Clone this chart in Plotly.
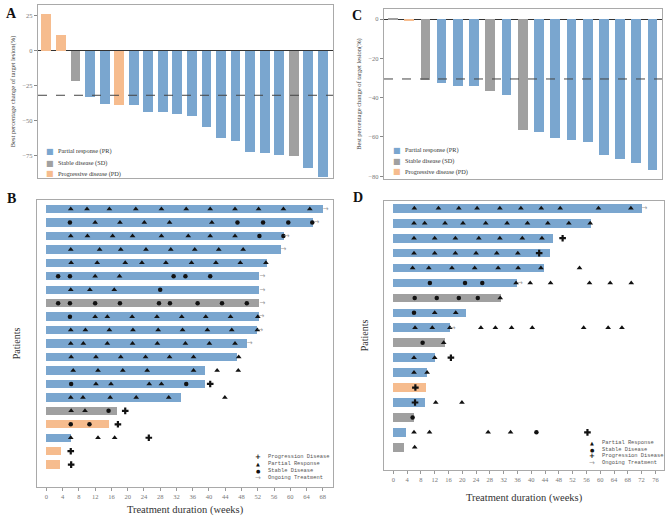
import plotly.graph_objects as go

W, H = 669, 516

BLUE = "#7aa6cf"
GRAY = "#a0a0a0"
ORANGE = "#f6bc8e"
COLORS = {"PR": BLUE, "SD": GRAY, "PD": ORANGE}
SERIF = "Liberation Serif, Times New Roman, serif"
MONO = "Liberation Mono, DejaVu Sans Mono, monospace"

# ---- panel A: waterfall ----
a_change = [26, 11, -22, -33, -38, -39, -39, -44, -44, -45.5,
            -47, -55, -62.5, -65, -72.5, -73, -75, -75.5, -84, -90.5]
a_response = ["PD", "PD", "SD", "PR", "PR", "PD", "PR", "PR", "PR", "PR",
              "PR", "PR", "PR", "PR", "PR", "PR", "PR", "SD", "PR", "PR"]
a_threshold = -32
a_ticks = [25, 0, -25, -50, -75]

# ---- panel C: waterfall ----
c_change = [0.6, -1, -31, -32.7, -34.2, -34.2, -36.6, -38.6, -56.3,
            -57.5, -60.7, -61.5, -62.7, -69, -71, -73.2, -77]
c_response = ["SD", "PD", "SD", "PR", "PR", "PR", "SD", "PR", "SD",
              "PR", "PR", "PR", "PR", "PR", "PR", "PR", "PR"]
c_threshold = -30.5
c_ticks = [0, -20, -40, -60, -80]

# ---- panel B: swimmer ----
b_end = [68, 65.7, 58.4, 57.6, 54.2, 52.4, 52.4, 52.4, 52.2, 51.9,
         49.3, 47, 39.1, 38.9, 33.2, 17.4, 15.4, 6, 3.5, 3.3]
b_response = ["PR"] * 7 + ["SD"] + ["PR"] * 7 + ["SD", "PD", "PR", "PD", "PD"]
b_ongoing = [True] * 4 + [False] + [True] * 6 + [False] * 9
b_pr = [
    [6, 10, 15.5, 22, 28.3, 34.4, 40.3, 46.4, 52.2, 58.3, 64.8],
    [12, 18.1, 24.1, 30.3, 40.7],
    [6, 10.1, 16.3, 21.2, 28.3, 34.9, 40.3, 46.4],
    [6, 13.1, 18.3, 24.5, 30.6, 36.5, 42.4, 48.4],
    [6.1, 12.5, 19.4, 23.5, 29.4, 35.7, 41.7, 47.7, 54],
    [12, 18],
    [6, 10.7, 16.7],
    [],
    [12, 15, 21.1, 27.2, 33.3, 39.2, 45.3, 52],
    [6, 9.6, 15.5, 21.3, 27.5, 33.5, 39.6, 45.6, 51.9],
    [6, 9.1, 15, 21.2, 27.3, 34.2, 40.1, 46.4],
    [6.1, 12.2, 18.3, 24.4, 30.3, 36.2, 47.3],
    [6.6, 12.7, 18.8, 24.8, 36.2, 42, 47.2],
    [12.2, 15.9, 25.3, 28.3],
    [6, 9, 15.7, 22.1, 30.1, 43.9],
    [6.1, 9.5],
    [],
    [6, 12.7, 16.8],
    [],
    [],
]
b_sd = [
    [], [5.8, 47, 53.3, 59.5, 65.4], [52.4, 58.3], [], [],
    [2.9, 5.8, 31.3, 34.2, 40.3], [28],
    [2.9, 5.8, 12, 18.1, 27.7, 30.4, 37.2, 43.2, 49.3],
    [5.8], [], [], [], [], [6.1, 34.4], [], [15.3], [6, 10.6], [], [], [],
]
b_pd = [
    [], [], [], [], [], [], [], [], [], [], [], [], [],
    [40.3], [], [19.4], [17.6], [25.2], [6], [6.1],
]
b_xticks = list(range(0, 69, 4))

# ---- panel D: swimmer ----
d_end = [72, 57.3, 46.3, 45.3, 43.6, 35.9, 31.3, 21.1, 16.4, 15,
         12.2, 9.8, 9.6, 9.3, 6.1, 3.6, 3.1]
d_response = ["PR"] * 6 + ["SD", "PR", "PR", "SD", "PR", "PR", "PD",
                           "PR", "SD", "PR", "SD"]
d_ongoing = [True] + [False] * 4 + [True] + [False] * 2 + [True] + [False] * 8
d_pr = [
    [6.1, 13.1, 19, 24.3, 30.9, 37, 42.9, 48.4, 59.5, 68.9],
    [6, 9.1, 15, 20.2, 26.8, 33, 38.9, 44.8, 50.9, 57.1],
    [6, 12, 18, 24.8, 30.9, 37.4, 43.1],
    [6, 12, 18, 24, 30, 36.1],
    [5.6, 10.3, 17, 23.6, 30.4, 36.2, 42.8, 54],
    [35.6, 39.7, 45.6, 56.9, 62.9, 69],
    [31],
    [12, 18.1],
    [6.3, 11.3, 16.4, 25.4, 29.6, 34.3, 40.3, 55.2, 62.3, 66.3],
    [14.6],
    [6, 12],
    [6, 9.8],
    [],
    [12.3, 19.9],
    [],
    [6, 10.5, 27.5, 34],
    [6.2],
]
d_sd = [
    [], [], [], [], [], [10.6, 20.8, 25.8], [6.2, 12.6, 19, 24.5], [6],
    [], [8.5], [], [], [], [], [5.6], [41.5], [],
]
d_pd = [
    [], [], [49.1], [42.3], [], [], [], [], [], [], [16.7], [],
    [6.4], [6.3], [], [56.3], [],
]
d_xticks = list(range(0, 77, 4))


def px(x, y):
    return x / W, 1 - y / H


def flat(rows):
    xs, ys = [], []
    for i, row in enumerate(rows):
        for v in row:
            xs.append(v)
            ys.append(i + 1)
    return xs, ys


fig = go.Figure()


def waterfall(values, responses, xa, ya, width):
    idx = list(range(1, len(values) + 1))
    fig.add_trace(go.Bar(
        x=idx, y=values, width=width,
        marker=dict(color=[COLORS[r] for r in responses], line_width=0),
        xaxis=xa, yaxis=ya, showlegend=False, hoverinfo="y",
    ))


def swimmer(ends, responses, ongoing, pr, sd, pd_, xa, ya, width):
    rows = list(range(1, len(ends) + 1))
    fig.add_trace(go.Bar(
        x=ends, y=rows, orientation="h", width=width,
        marker=dict(color=[COLORS[r] for r in responses], line_width=0),
        xaxis=xa, yaxis=ya, showlegend=False,
    ))
    for data, sym, size in ((pr, "triangle-up", 5), (sd, "circle", 4.5),
                            (pd_, "cross", 5.5)):
        xs, ys = flat(data)
        fig.add_trace(go.Scatter(
            x=xs, y=ys, mode="markers", xaxis=xa, yaxis=ya,
            marker=dict(symbol=sym, size=size, color="#111111", line_width=0),
            showlegend=False,
        ))
    ox = [e for e, o in zip(ends, ongoing) if o]
    oy = [r for r, o in zip(rows, ongoing) if o]
    fig.add_trace(go.Scatter(
        x=ox, y=oy, mode="text", text=["→"] * len(ox),
        textposition="middle right", xaxis=xa, yaxis=ya,
        textfont=dict(size=7, color="#999999", family="DejaVu Sans"),
        showlegend=False,
    ))


waterfall(a_change, a_response, "x", "y", 0.68)
waterfall(c_change, c_response, "x2", "y2", 0.6)
swimmer(b_end, b_response, b_ongoing, b_pr, b_sd, b_pd, "x3", "y3", 0.62)
swimmer(d_end, d_response, d_ongoing, d_pr, d_sd, d_pd, "x4", "y4", 0.58)

tickfont = dict(family=SERIF, size=6.5, color="#777777")
box = dict(showline=True, mirror=True, linecolor="#a9a9a9", linewidth=1.3,
           showgrid=False, automargin=False)
ytitle_font = dict(family=SERIF, size=6.5, color="#444444")

fig.update_layout(
    width=W, height=H,
    margin=dict(l=0, r=0, t=0, b=0, autoexpand=False),
    paper_bgcolor="white", plot_bgcolor="white",
    bargap=0,
    xaxis=dict(domain=[38 / W, 333 / W], range=[0.42, 20.7], anchor="y",
               showticklabels=False, zeroline=False, **box),
    yaxis=dict(domain=[1 - 178 / H, 1 - 5 / H], range=[-91.2, 32.6],
               anchor="x", tickvals=a_ticks, ticks="outside", ticklen=3,
               tickcolor="#888888", tickfont=tickfont, zeroline=True,
               zerolinecolor="#333333", zerolinewidth=1,
               title=dict(text="Best percentage change of target lesion(%)",
                          font=ytitle_font, standoff=6), **box),
    xaxis2=dict(domain=[384 / W, 662 / W], range=[0.45, 17.58], anchor="y2",
                showticklabels=False, zeroline=False, **box),
    yaxis2=dict(domain=[1 - 179 / H, 1 - 9 / H], range=[-81.4, 5.1],
                anchor="x2", tickvals=c_ticks, ticks="outside", ticklen=3,
                tickcolor="#888888", tickfont=tickfont, zeroline=True,
                zerolinecolor="#333333", zerolinewidth=1,
                title=dict(text="Best percentage change of target lesion(%)",
                           font=ytitle_font, standoff=6), **box),
    xaxis3=dict(domain=[37 / W, 333 / W], range=[-2.3, 70.5], anchor="y3",
                tickvals=b_xticks, ticks="outside", ticklen=3,
                tickcolor="#999999", tickfont=tickfont, zeroline=False,
                title=dict(text="Treatment duration (weeks)",
                           font=dict(family=SERIF, size=10.5, color="#333333"),
                           standoff=6), **box),
    yaxis3=dict(domain=[1 - 487 / H, 1 - 200 / H], range=[21.66, 0.33],
                anchor="x3", showticklabels=False, ticks="", zeroline=False,
                title=dict(text="Patients",
                           font=dict(family=SERIF, size=10, color="#333333"),
                           standoff=13), **box),
    xaxis4=dict(domain=[384 / W, 664 / W], range=[-2.7, 78.5], anchor="y4",
                tickvals=d_xticks, ticks="outside", ticklen=3,
                tickcolor="#999999", tickfont=tickfont, zeroline=False,
                title=dict(text="Treatment duration (weeks)",
                           font=dict(family=SERIF, size=10.5, color="#333333"),
                           standoff=11), **box),
    yaxis4=dict(domain=[1 - 470 / H, 1 - 201 / H], range=[18.52, 0.51],
                anchor="x4", showticklabels=False, ticks="", zeroline=False,
                title=dict(text="Patients",
                           font=dict(family=SERIF, size=10, color="#333333"),
                           standoff=12), **box),
)

# response threshold lines
for xa, ya, thr in (("x", "y", a_threshold), ("x2", "y2", c_threshold)):
    fig.add_shape(type="line", xref=xa + " domain", yref=ya, x0=0, x1=1,
                  y0=thr, y1=thr, line=dict(color="#444444", width=1, dash="dash"))

annotations = []


def note(text, x, y, font, xanchor="center"):
    ax, ay = px(x, y)
    annotations.append(dict(text=text, x=ax, y=ay, xref="paper", yref="paper",
                            showarrow=False, xanchor=xanchor, yanchor="middle",
                            font=font))


# panel letters
for letter, (x, y) in (("A", (11, 13)), ("C", (357, 15)),
                       ("B", (11, 198)), ("D", (358, 197))):
    note("<b>%s</b>" % letter, x, y,
         dict(family=SERIF, size=14, color="#111111"))

# waterfall legends
wf_labels = ["Partial response (PR)", "Stable disease (SD)",
             "Progressive disease (PD)"]
wf_colors = [BLUE, GRAY, ORANGE]
for x0, rows_y in ((50, (151, 163, 174)), (397, (150, 161, 172))):
    for lab, col, y in zip(wf_labels, wf_colors, rows_y):
        note("■", x0, y, dict(size=8, color=col, family="DejaVu Sans"))
        note(lab, x0 + 6, y, dict(family=SERIF, size=6.3, color="#333333"),
             xanchor="left")

# swimmer legends
glyph = {"Progression Disease": "<b>+</b>", "Partial Response": "▲",
         "Stable Disease": "●", "Ongoing Treatment": "→"}
b_leg = ["Progression Disease", "Partial Response", "Stable Disease",
         "Ongoing Treatment"]
d_leg = ["Partial Response", "Stable Disease", "Progression Disease",
         "Ongoing Treatment"]
for labels, x0, rows_y in ((b_leg, 258, (457, 464, 471, 478)),
                           (d_leg, 592, (443, 449.5, 456, 462.5))):
    for lab, y in zip(labels, rows_y):
        g = glyph[lab]
        note(g, x0, y, dict(size=5 if g in ("▲", "●") else 7,
                            family="DejaVu Sans",
                            color="#999999" if g == "→" else "#111111"))
        note(lab, x0 + 8, y, dict(family=MONO, size=5.4, color="#555555"),
             xanchor="left")

fig.update_layout(annotations=annotations)

# the page body has a default 8px margin; drop it so the figure sits at 0,0
fig.write_html("out.html", config={"displayModeBar": False},
               post_script="document.body.style.margin='0';")
